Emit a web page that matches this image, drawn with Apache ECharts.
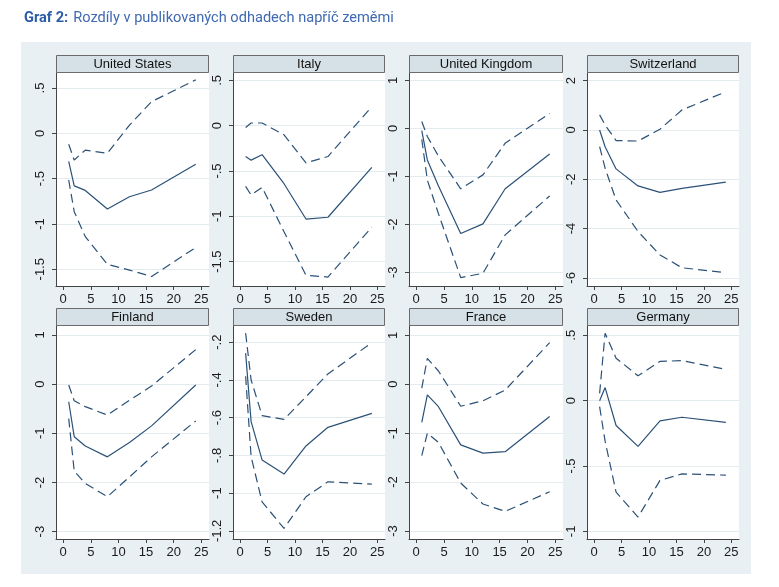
<!DOCTYPE html>
<html><head><meta charset="utf-8">
<script src="https://cdn.jsdelivr.net/npm/echarts@6/dist/echarts.min.js"></script>
<style>
html,body{margin:0;padding:0;background:#fff;}
#bg{position:absolute;left:21px;top:42px;width:730px;height:532px;background:#e9f0f3;}
#chart{position:absolute;left:0;top:0;width:779px;height:587px;}
</style></head>
<body>
<div id="bg"></div>
<div id="chart"></div>
<script>
// ---- data ----
const horizons = [1, 2, 4, 8, 12, 16, 24];
const countries = ['United States', 'Italy', 'United Kingdom', 'Switzerland', 'Finland', 'Sweden', 'France', 'Germany'];

const usEst   = [-0.31, -0.58, -0.63, -0.835, -0.70, -0.625, -0.34];
const usUpper = [-0.12, -0.295, -0.185, -0.22, 0.09, 0.35, 0.59];
const usLower = [-0.515, -0.865, -1.14, -1.446, -1.51, -1.58, -1.26];

const itEst   = [-0.34, -0.38, -0.32, -0.64, -1.03, -1.01, -0.46];
const itUpper = [-0.02, 0.03, 0.03, -0.10, -0.41, -0.34, 0.21];
const itLower = [-0.67, -0.765, -0.68, -1.17, -1.65, -1.67, -1.12];

const ukEst   = [-0.05, -0.66, -1.2, -2.19, -1.99, -1.26, -0.535];
const ukUpper = [0.14, -0.17, -0.58, -1.26, -0.97, -0.31, 0.31];
const ukLower = [-0.23, -1.08, -1.78, -3.11, -3.02, -2.22, -1.41];

const chEst   = [0.0, -0.68, -1.58, -2.27, -2.53, -2.37, -2.12];
const chUpper = [0.61, 0.2, -0.43, -0.45, 0.03, 0.81, 1.55];
const chLower = [-0.68, -1.55, -2.84, -4.12, -5.07, -5.59, -5.79];

const fiEst   = [-0.36, -1.07, -1.26, -1.48, -1.19, -0.85, -0.02];
const fiUpper = [-0.02, -0.34, -0.46, -0.63, -0.33, -0.04, 0.70];
const fiLower = [-0.70, -1.77, -2.02, -2.29, -1.89, -1.48, -0.75];

const seEst   = [-0.258, -0.621, -0.824, -0.899, -0.75, -0.651, -0.577];
const seUpper = [-0.152, -0.40, -0.589, -0.609, -0.489, -0.368, -0.202];
const seLower = [-0.38, -0.807, -1.046, -1.187, -1.019, -0.94, -0.952];

const frEst   = [-0.78, -0.22, -0.46, -1.24, -1.41, -1.38, -0.66];
const frUpper = [-0.08, 0.53, 0.27, -0.45, -0.34, -0.12, 0.85];
const frLower = [-1.46, -1.00, -1.19, -2.02, -2.45, -2.60, -2.20];

const deEst   = [0.0, 0.10, -0.19, -0.35, -0.155, -0.127, -0.166];
const deUpper = [0.056, 0.516, 0.325, 0.19, 0.30, 0.306, 0.24];
const deLower = [-0.046, -0.31, -0.70, -0.89, -0.61, -0.56, -0.57];

const xTicks = [0, 5, 10, 15, 20, 25];
const yTicksUS = [-1.5, -1, -0.5, 0, 0.5];
const yTicksIT = [-1.5, -1, -0.5, 0, 0.5];
const yTicksUK = [-3, -2, -1, 0, 1];
const yTicksCH = [-6, -4, -2, 0, 2];
const yTicksFI = [-3, -2, -1, 0, 1];
const yTicksSE = [-1.2, -1, -0.8, -0.6, -0.4, -0.2];
const yTicksFR = [-3, -2, -1, 0, 1];
const yTicksDE = [-1, -0.5, 0, 0.5];

const estimates = [usEst, itEst, ukEst, chEst, fiEst, seEst, frEst, deEst];
const uppers = [usUpper, itUpper, ukUpper, chUpper, fiUpper, seUpper, frUpper, deUpper];
const lowers = [usLower, itLower, ukLower, chLower, fiLower, seLower, frLower, deLower];
const yTicks = [yTicksUS, yTicksIT, yTicksUK, yTicksCH, yTicksFI, yTicksSE, yTicksFR, yTicksDE];

// ---- layout ----
const yRanges = [[-1.685, 0.666], [-1.769, 0.582], [-3.285, 1.152], [-6.33, 2.31],
                 [-3.15, 1.18], [-1.243, -0.114], [-3.165, 1.19], [-1.058, 0.571]];
const colLeft = [56, 233, 409, 587];
const colWidth = [153, 152, 154, 152];
const rowTop = [73, 326];
const plotH = 213;
const headH = 17;

const navy = '#2b5177';
const fontFam = '"Liberation Sans", Arial, sans-serif';
const fmt = v => String(v).replace(/^(-?)0\./, '$1.');

const grids = [], xAxes = [], yAxes = [], series = [], graphics = [];
for (let i = 0; i < 8; i++) {
  const c = i % 4, r = Math.floor(i / 4);
  grids.push({left: colLeft[c], top: rowTop[r], width: colWidth[c], height: plotH,
    show: true, backgroundColor: '#ffffff', borderWidth: 0});
  xAxes.push({type: 'value', gridIndex: i, min: -1.3, max: 26.4,
    axisLine: {show: true, onZero: false, lineStyle: {color: '#444', width: 1}},
    axisTick: {show: true, length: 4, lineStyle: {color: '#444'}, customValues: xTicks},
    axisLabel: {customValues: xTicks, margin: 7, color: '#1a1a1a', fontSize: 13, fontFamily: fontFam},
    splitLine: {show: false}});
  yAxes.push({type: 'value', gridIndex: i, min: yRanges[i][0], max: yRanges[i][1],
    axisLine: {show: true, onZero: false, lineStyle: {color: '#444', width: 1}},
    axisTick: {show: true, length: 4, lineStyle: {color: '#444'}, customValues: yTicks[i]},
    axisLabel: {customValues: yTicks[i], rotate: 90, margin: 9, color: '#1a1a1a', fontSize: 13,
      fontFamily: fontFam, formatter: fmt},
    splitLine: {show: true, lineStyle: {color: '#e3ebee', width: 1}}});
  const mk = (arr, dashed) => ({type: 'line', xAxisIndex: i, yAxisIndex: i,
    data: horizons.map((h, k) => [h, arr[k]]), showSymbol: false, symbol: 'none',
    lineStyle: {color: navy, width: 1.2, type: dashed ? [9, 5] : 'solid'}, silent: true});
  series.push(mk(estimates[i], false), mk(uppers[i], true), mk(lowers[i], true));
  const hy = rowTop[r] - headH - 1;
  graphics.push({type: 'rect', shape: {x: colLeft[c] + 0.5, y: hy + 0.5, width: colWidth[c] - 1, height: headH},
    style: {fill: '#d6e1e7', stroke: '#6b6b6b', lineWidth: 1}});
  graphics.push({type: 'text', x: colLeft[c] + colWidth[c] / 2, y: hy + headH / 2 + 1,
    style: {text: countries[i], textAlign: 'center', textVerticalAlign: 'middle',
      font: '13px ' + fontFam, fill: '#111'}});
}

const chart = echarts.init(document.getElementById('chart'), null, {renderer: 'canvas'});
chart.setOption({
  backgroundColor: 'transparent',
  animation: false,
  title: {
    text: '{b|Graf 2:} {n|Rozdíly v publikovaných odhadech napříč zeměmi}',
    left: 19, top: 4,
    textStyle: {rich: {
      b: {fontFamily: 'Roboto', fontWeight: 'bold', fontSize: 14.6, color: '#2b5ca8'},
      n: {fontFamily: 'Roboto', fontWeight: 'normal', fontSize: 14.6, color: '#3f69b2'}
    }}
  },
  grid: grids, xAxis: xAxes, yAxis: yAxes, series: series,
  graphic: graphics
});
</script>
</body></html>
